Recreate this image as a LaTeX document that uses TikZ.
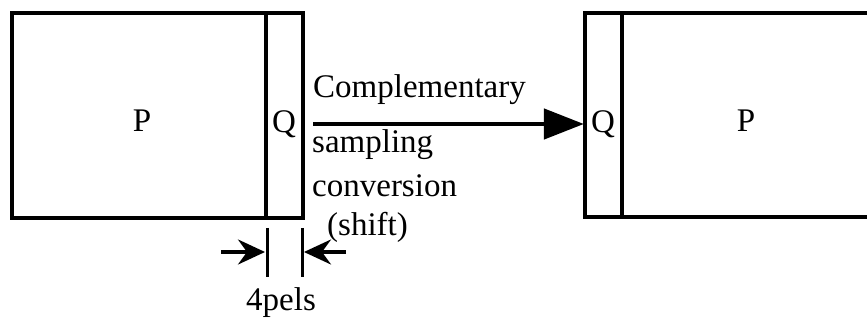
\documentclass[tikz,border=0pt]{standalone}
\usepackage{fontspec}
\setmainfont{Liberation Serif}
\usetikzlibrary{arrows.meta}
\tikzset{
    frameline/.style={line width=3.6pt},
    dimarrow/.style={line width=3.4pt, -{Stealth[length=27pt,width=25pt,inset=9pt]}},
    txt/.style={inner sep=0pt, anchor=base west}
}
\newcommand{\pelTick}[1]{%
    \draw[line width=3pt] (#1,228) -- (#1,277);
}

\begin{document}
\begin{tikzpicture}[x=1pt, y=-1pt, font=\fontsize{33}{40}\selectfont]
    \useasboundingbox (0,0) rectangle (867,320);
    % picture before the shift
    \draw[frameline] (12,13) rectangle (303,218);
    \draw[frameline] (266,13) -- (266,218);
    \node (srcP) at (142,121) {P};
    \node[inner sep=0pt] (srcQ) at (284,124) {Q};
    % picture after the shift
    \draw[frameline] (869,13) -- (585,13) -- (585,217) -- (869,217);
    \draw[frameline] (622,13) -- (622,217);
    \node[inner sep=0pt] (dstQ) at (603,124) {Q};
    \node (dstP) at (746,121) {P};
    % conversion
    \draw[line width=4.6pt, -{Triangle[length=40pt,width=30pt]},
          shorten <=17pt, shorten >=7pt] (srcQ.east) -- (dstQ.west);
    \node[txt] (lblA) at (313,98) {Complementary};
    \node[txt] (lblB) at (312,153) {sampling};
    \node[txt] (lblC) at (312,197) {conversion};
    \node[txt] (lblD) at (327,236) {(shift)};
    % width of Q
    \pelTick{267}
    \pelTick{302}
    \coordinate (tickA) at (265,252);
    \coordinate (tickB) at (304,252);
    \coordinate (inL) at (221,252);
    \coordinate (inR) at (346,252);
    \draw[dimarrow] (inL) -- (tickA);
    \draw[dimarrow] (inR) -- (tickB);
    \node[inner sep=0pt, anchor=base] (pels) at (281,310) {4pels};
\end{tikzpicture}
\end{document}
